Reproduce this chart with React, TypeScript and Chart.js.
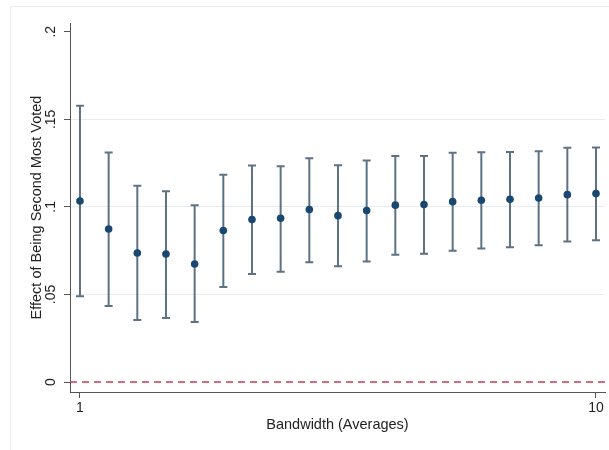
import { useEffect, useRef } from "react";
import { Chart, registerables } from "chart.js";

Chart.register(...registerables);

const bandwidths = [1, 1.5, 2, 2.5, 3, 3.5, 4, 4.5, 5, 5.5, 6, 6.5, 7, 7.5, 8, 8.5, 9, 9.5, 10];
const estimates = [0.1034, 0.0874, 0.0737, 0.0731, 0.0674, 0.0865, 0.0928, 0.0935, 0.0985, 0.095, 0.0979, 0.101, 0.1013, 0.103, 0.1038, 0.1044, 0.1051, 0.107, 0.1076];
const upperCI = [0.1577, 0.131, 0.112, 0.109, 0.101, 0.1183, 0.1236, 0.1232, 0.1278, 0.1238, 0.1265, 0.129, 0.1291, 0.1309, 0.1312, 0.1314, 0.1318, 0.1337, 0.1339];
const lowerCI = [0.049, 0.0434, 0.0354, 0.0366, 0.0343, 0.0543, 0.0617, 0.063, 0.0684, 0.0661, 0.0688, 0.0726, 0.0733, 0.075, 0.0762, 0.077, 0.0781, 0.0802, 0.081];
const yTickValues = [0, 0.05, 0.1, 0.15, 0.2];
const yTickLabels = ["0", ".05", ".1", ".15", ".2"];
const yGridValues = [0.05, 0.1, 0.15];
const xTickValues = [1, 10];
const referenceLine = 0;

const FONT = "'Liberation Sans', Arial, Helvetica, sans-serif";

export default function App() {
  const canvasRef = useRef<HTMLCanvasElement | null>(null);

  useEffect(() => {
    document.body.style.margin = "0";
    const canvas = canvasRef.current;
    if (!canvas) return;

    const framePlugin = {
      id: "frame",
      beforeDraw(chart: any) {
        const { ctx, width, height } = chart;
        ctx.save();
        ctx.fillStyle = "#ffffff";
        ctx.fillRect(0, 0, width, height);
        ctx.strokeStyle = "#ececec";
        ctx.lineWidth = 1;
        ctx.strokeRect(10.5, 6.5, width + 10, height + 10);
        ctx.restore();
      },
    };

    const errorBarPlugin = {
      id: "errorBars",
      beforeDatasetsDraw(chart: any) {
        const { ctx, chartArea } = chart;
        const xs = chart.scales.x;
        const ys = chart.scales.y;
        ctx.save();
        const y0 = ys.getPixelForValue(referenceLine);
        ctx.strokeStyle = "#c93a5b";
        ctx.lineWidth = 1.3;
        ctx.setLineDash([7, 5]);
        ctx.beginPath();
        ctx.moveTo(chartArea.left, y0);
        ctx.lineTo(chartArea.right, y0);
        ctx.stroke();
        ctx.setLineDash([]);
        ctx.strokeStyle = "#5d7284";
        ctx.lineWidth = 2;
        bandwidths.forEach((b, i) => {
          const x = xs.getPixelForValue(b);
          const yu = ys.getPixelForValue(upperCI[i]);
          const yl = ys.getPixelForValue(lowerCI[i]);
          ctx.beginPath();
          ctx.moveTo(x, yu);
          ctx.lineTo(x, yl);
          ctx.moveTo(x - 4, yu);
          ctx.lineTo(x + 4, yu);
          ctx.moveTo(x - 4, yl);
          ctx.lineTo(x + 4, yl);
          ctx.stroke();
        });
        ctx.restore();
      },
    };

    const chart = new Chart(canvas, {
      type: "scatter",
      data: {
        datasets: [
          {
            data: bandwidths.map((b, i) => ({ x: b, y: estimates[i] })),
            backgroundColor: "#1a476f",
            borderColor: "#1a476f",
            pointRadius: 3.8,
            pointBorderWidth: 0,
          },
        ],
      },
      options: {
        responsive: false,
        animation: false,
        layout: { padding: { left: 8, right: 4, top: 23, bottom: 6 } },
        plugins: { legend: { display: false }, tooltip: { enabled: false } },
        scales: {
          x: {
            type: "linear",
            min: 0.826,
            max: 10.157,
            afterBuildTicks: (s: any) => {
              s.ticks = xTickValues.map((v) => ({ value: v }));
            },
            afterFit: (s: any) => {
              s.height = 52;
            },
            grid: { drawOnChartArea: false, drawTicks: true, tickLength: 6, color: "#555" },
            border: { display: true, color: "#555", width: 1 },
            ticks: {
              padding: 2,
              color: "#222",
              font: { family: FONT, size: 14 },
              maxRotation: 0,
              callback: (v: any) => String(v),
            },
            title: {
              display: true,
              text: "Bandwidth (Averages)",
              color: "#222",
              font: { family: FONT, size: 14.5 },
              padding: { top: 0, bottom: 10.3 },
            },
          },
          y: {
            type: "linear",
            min: -0.0057,
            max: 0.205,
            afterBuildTicks: (s: any) => {
              s.ticks = yTickValues.map((v) => ({ value: v }));
            },
            afterFit: (s: any) => {
              s.width = 62;
            },
            grid: {
              drawTicks: true,
              tickLength: 6,
              tickColor: "#555",
              color: (c: any) => (c.tick && yGridValues.includes(c.tick.value) ? "#e6ecef" : "rgba(0,0,0,0)"),
            },
            border: { display: true, color: "#555", width: 1 },
            ticks: {
              minRotation: 90,
              maxRotation: 90,
              crossAlign: "center",
              padding: 3,
              color: "#222",
              font: { family: FONT, size: 14 },
              callback: (v: any) => {
                const idx = yTickValues.indexOf(v);
                return idx >= 0 ? yTickLabels[idx] : "";
              },
            },
            title: {
              display: true,
              text: "Effect of Being Second Most Voted",
              color: "#222",
              font: { family: FONT, size: 14.5 },
              padding: { top: 20.3, bottom: 0 },
            },
          },
        },
      },
      plugins: [framePlugin, errorBarPlugin],
    });

    return () => chart.destroy();
  }, []);

  return (
    <div style={{ width: 609, height: 450 }}>
      <canvas ref={canvasRef} width={609} height={450} style={{ display: "block" }} />
    </div>
  );
}
